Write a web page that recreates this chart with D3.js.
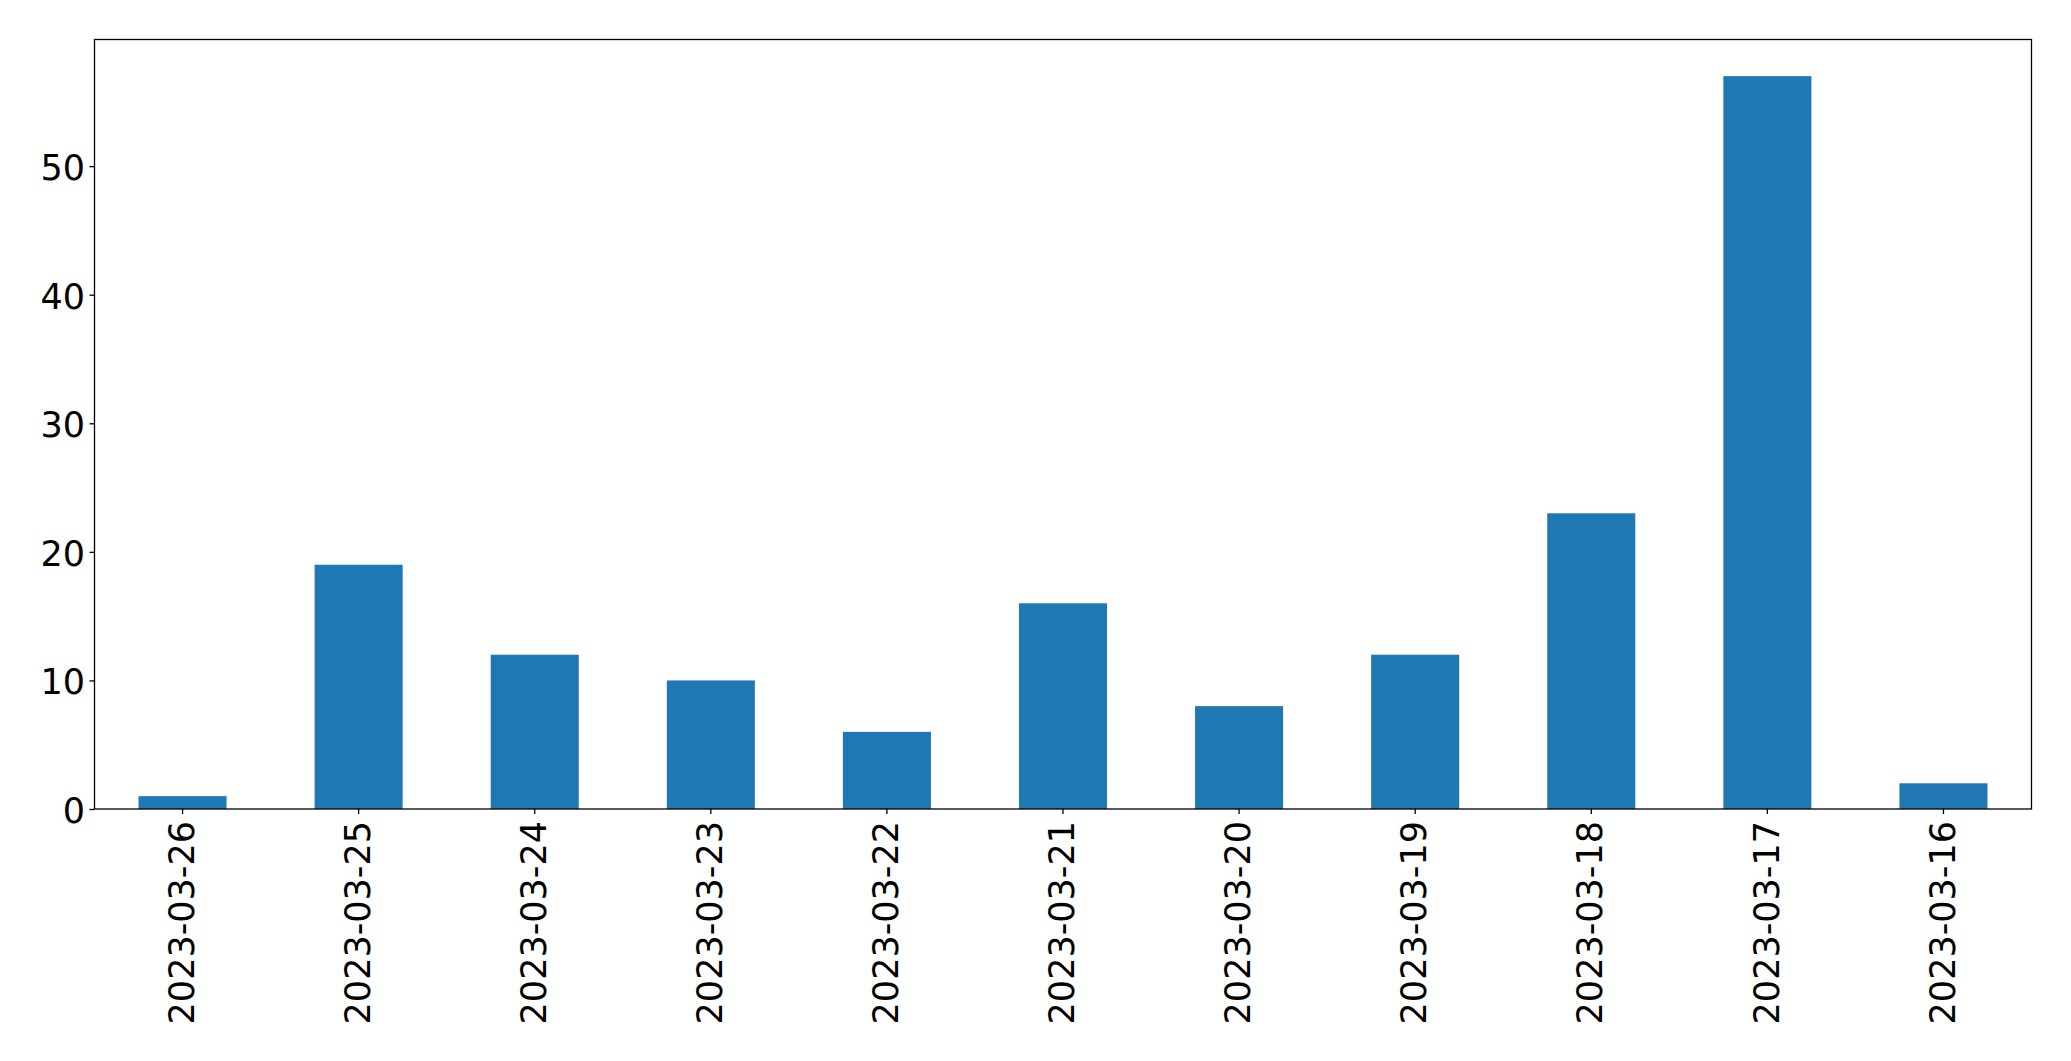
<!DOCTYPE html>
<html>
<head>
<meta charset="utf-8">
<script src="https://cdn.jsdelivr.net/npm/d3@7"></script>
<style>
  body { margin: 0; background: #fff; }
  svg { display: block; }
  .axis text { font-family: "DejaVu Sans", sans-serif; font-size: 35px; fill: #000; }
</style>
</head>
<body>
<div id="chart"></div>
<script>
const dates = ['2023-03-26', '2023-03-25', '2023-03-24', '2023-03-23', '2023-03-22', '2023-03-21',
  '2023-03-20', '2023-03-19', '2023-03-18', '2023-03-17', '2023-03-16']
const counts = [1, 19, 12, 10, 6, 16, 8, 12, 23, 57, 2]
const yTicks = [0, 10, 20, 30, 40, 50]

const width = 2071
const height = 1061
const plotLeft = 94.5
const plotRight = 2031.5
const plotTop = 39.5
const plotBottom = 809

const svg = d3.select('#chart').append('svg').attr('width', width).attr('height', height)

const xScale = d3.scaleBand().domain(dates).range([plotLeft, plotRight]).paddingInner(0.5).paddingOuter(0.25)
const yScale = d3.scaleLinear().domain([0, d3.max(counts) * 1.05]).range([plotBottom, plotTop])

svg.selectAll('rect.bar').data(dates)
  .enter()
  .append('rect')
  .attr('class', 'bar')
  .attr('x', function(d) { return xScale(d) })
  .attr('width', xScale.bandwidth())
  .attr('y', function(d, i) { return yScale(counts[i]) })
  .attr('height', function(d, i) { return yScale(0) - yScale(counts[i]) })
  .attr('fill', '#1f77b4')

const yAxis = d3.axisLeft(yScale).tickValues(yTicks).tickSize(5).tickPadding(4.5)
const xAxis = d3.axisBottom(xScale).tickSize(5)

const gy = svg.append('g').attr('class', 'axis y-axis').attr('transform', 'translate(' + plotLeft + ',0)').call(yAxis)
gy.select('.domain').remove()
gy.selectAll('line').attr('stroke', '#000').attr('stroke-width', 1.3)
gy.selectAll('text').attr('dy', '0.38em')

const gx = svg.append('g').attr('class', 'axis x-axis').attr('transform', 'translate(0,' + plotBottom + ')').call(xAxis)
gx.select('.domain').remove()
gx.selectAll('line').attr('stroke', '#000').attr('stroke-width', 1.3)
gx.selectAll('text')
  .attr('transform', 'rotate(-90)')
  .attr('text-anchor', 'end')
  .attr('x', -12)
  .attr('y', 0)
  .attr('dy', '0.32em')

// frame
svg.append('rect')
  .attr('x', plotLeft).attr('y', plotTop)
  .attr('width', plotRight - plotLeft).attr('height', plotBottom - plotTop)
  .attr('fill', 'none').attr('stroke', '#000').attr('stroke-width', 1.3)
</script>
</body>
</html>
